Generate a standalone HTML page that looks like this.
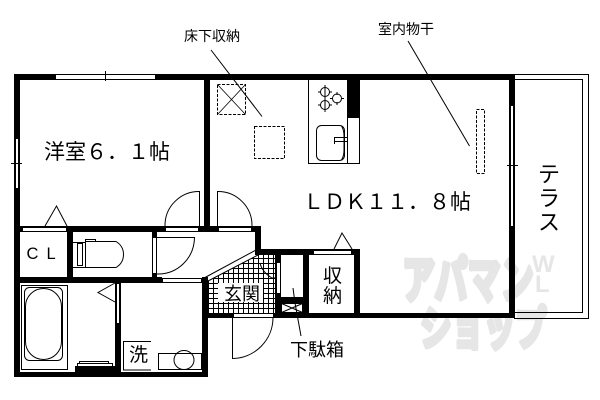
<!DOCTYPE html>
<html lang="ja"><head><meta charset="utf-8"><title>間取り図</title>
<style>
html,body{margin:0;padding:0;background:#fff;width:600px;height:400px;overflow:hidden}
svg{display:block}
text{font-family:"Liberation Sans","Noto Sans CJK JP",sans-serif;fill:#000}
.wm{fill:#e6e6e6;stroke:#e6e6e6;stroke-width:3.500;stroke-linejoin:round;font-weight:700;font-family:"Noto Sans CJK JP",sans-serif}
</style></head><body>
<svg xmlns="http://www.w3.org/2000/svg" width="600" height="400" viewBox="0 0 600 400">
<defs><clipPath id="tile"><polygon points="208,281 257,255 275,255 275,313 208,313"/></clipPath></defs>
<!-- watermark -->
<text class="wm" transform="translate(402,298) scale(.92,1.4)" font-size="36">アパマン</text>
<text class="wm" transform="translate(420,345) scale(.88,1.3)" font-size="36">ショップ</text>
<text transform="translate(532,272)" font-size="24" font-weight="700" style="fill:#e6e6e6">W</text>
<text transform="translate(535,292)" font-size="24" font-weight="700" style="fill:#e6e6e6">L</text>

<!-- terrace -->
<g fill="none" stroke="#000" stroke-width="1" shape-rendering="crispEdges">
<rect x="514.500" y="74.500" width="74" height="244"/>
<rect x="514.500" y="79.500" width="68" height="233"/>
</g>

<!-- tile grid -->
<g stroke="#000" stroke-width="1" shape-rendering="crispEdges" clip-path="url(#tile)">
<path d="M208.500 250V313M213.500 250V313M218.500 250V313M223.500 250V313M228.500 250V313M233.500 250V313M238.500 250V313M243.500 250V313M248.500 250V313M253.500 250V313M258.500 250V313M263.500 250V313M268.500 250V313M273.500 250V313"/>
<path d="M208 258.500H275M208 263.500H275M208 268.500H275M208 273.500H275M208 278.500H275M208 283.500H275M208 288.500H275M208 293.500H275M208 298.500H275M208 303.500H275M208 308.500H275"/>
</g>
<polygon points="205,277 256,250 258,255 208,281" fill="#fff"/>
<path d="M205 277.500L256 250M208 281L258 255" stroke="#000" stroke-width="1" fill="none"/>
<rect x="218" y="283" width="45" height="19" fill="#fff"/>

<!-- walls -->
<g fill="#000" shape-rendering="crispEdges">
<rect x="14" y="74" width="501" height="6"/>
<rect x="14" y="74" width="6" height="303"/>
<rect x="509" y="74" width="6" height="244"/>
<rect x="204" y="80" width="6" height="150"/>
<rect x="14" y="226" width="247" height="6"/>
<rect x="255" y="226" width="6" height="29"/>
<rect x="255" y="249" width="105" height="6"/>
<rect x="354" y="249" width="6" height="69"/>
<rect x="275" y="249" width="6" height="69"/>
<rect x="303" y="255" width="6" height="58"/>
<rect x="275" y="297" width="28" height="6"/>
<rect x="207" y="313" width="308" height="5"/>
<rect x="202" y="277" width="6" height="100"/>
<rect x="14" y="372" width="193" height="5"/>
<rect x="67" y="226" width="6" height="57"/>
<rect x="14" y="277" width="148" height="6"/>
<rect x="152" y="232" width="5" height="51"/>
<rect x="115" y="283" width="6" height="89"/>
<rect x="75" y="366" width="46" height="6"/>
<rect x="347" y="80" width="13" height="38"/>
</g>

<!-- openings & windows -->
<g fill="#fff" stroke="#000" stroke-width="1" shape-rendering="crispEdges">
<rect x="55.500" y="74.500" width="100" height="5"/>
<rect x="15.500" y="138.500" width="3" height="50"/>
<rect x="510.500" y="105.500" width="3" height="121"/>
<rect x="22.500" y="227.500" width="44" height="4"/>
<rect x="165.500" y="227.500" width="33" height="4"/>
<rect x="218.500" y="227.500" width="33" height="4"/>
<rect x="152.500" y="237.500" width="4" height="36"/>
<rect x="162.500" y="278.500" width="39" height="4"/>
<rect x="116.500" y="283.500" width="3" height="40"/>
<rect x="313.500" y="250.500" width="38" height="4"/>
<rect x="276.500" y="262.500" width="4" height="31"/>
<rect x="233.500" y="313.500" width="40" height="4"/>
<rect x="79.500" y="361.500" width="29" height="2"/>
<rect x="77.500" y="363.500" width="35" height="3"/>
</g>
<path d="M105.500 71V81M11 163.500H22M507 165.500H518" stroke="#000" stroke-width="1" shape-rendering="crispEdges"/>

<!-- doors -->
<g fill="none" stroke="#000" stroke-width="1">
<path d="M199.500 226V191.500A34 34 0 0 0 165 226"/>
<path d="M217.500 226V191.500A34 34 0 0 1 252 226"/>
<path d="M157 237.500H194.500A37 37 0 0 1 157 274"/>
<path d="M232.500 318V358.500A41 41 0 0 0 273 318"/>
<path d="M45 226L56.500 206L67 226"/>
<path d="M115 283L98 292.500L115 302"/>
<path d="M334 249L342 233L352 249"/>
<!-- bath -->
<rect x="21.500" y="285.500" width="46" height="84"/>
<rect x="24.500" y="287.500" width="38" height="73" rx="5"/>
<rect x="25.500" y="288.500" width="36" height="71" rx="18"/>
<!-- toilet -->
<path d="M73 242.500H85.500V267.500H73"/>
<rect x="77.500" y="243.500" width="5" height="22"/>
<path d="M85.500 241.500H116Q123.500 246 123.500 254.500Q123.500 263 116 267.500H85.500"/>
<rect x="85.500" y="239.500" width="10" height="2"/>
<!-- wash -->
<path d="M151 341.500H123.500V370H151"/>
<rect x="158.500" y="353.500" width="43" height="16"/>
<ellipse cx="184" cy="360" rx="10" ry="9.500"/>
<!-- kitchen -->
<path d="M308.500 80V163.500H359.500V118M347.500 118V163.500"/>
<rect x="316.500" y="125.500" width="28" height="35" rx="5"/>
<rect x="318.500" y="125.500" width="24" height="35" rx="5" stroke="none"/>
<path d="M341.500 126Q344 130 344 136V150Q344 156 341.500 160"/>
<circle cx="325" cy="92" r="4.500"/><circle cx="337" cy="98.500" r="4.500"/><circle cx="325" cy="105" r="4.500"/>
<path d="M325 85V112M318 92H321M329 92H332M318 105H321M329 105H332M330 98.500H333M341 98.500H344M337 92V95M337 102V105"/>
<path d="M347 137.500H334.500V141.500H347M334.500 141.500V144M344 137V142"/>
<!-- dashed -->
<rect x="217.500" y="84.500" width="28" height="30" stroke-dasharray="3 1.500"/>
<path d="M217.500 84.500L245.500 114.500M245.500 84.500L217.500 114.500" stroke-width=".8"/>
<rect x="254.500" y="126.500" width="30" height="32" stroke-dasharray="3 1.500"/>
<rect x="476.500" y="109.500" width="8" height="64" stroke-dasharray="3 1.500"/>
<!-- leaders -->
<path d="M211 50L262 116.500M408 41L469.500 146M293 288L295 303L301 336"/>
<path d="M281.500 303.500H302.500V312.500H281.500ZM281.500 303.500L302.500 312.500M302.500 303.500L281.500 312.500"/>
<path d="M260 263Q262 272 272 278H276" stroke-width="1"/>
</g>

<!-- labels -->
<text x="184" y="41" font-size="14">床下収納</text>
<text x="378" y="34" font-size="14">室内物干</text>
<text x="44" y="159" font-size="21" textLength="126" lengthAdjust="spacing">洋室６．１帖</text>
<text x="303" y="209" font-size="21" textLength="168" lengthAdjust="spacing">ＬＤＫ１１．８帖</text>
<text x="538" y="182" font-size="22">テ</text>
<text x="538" y="206" font-size="22">ラ</text>
<text x="538" y="230" font-size="22">ス</text>
<text x="224" y="300" font-size="18">玄関</text>
<text x="323" y="282" font-size="19">収</text>
<text x="323" y="302" font-size="19">納</text>
<text x="290" y="356" font-size="18">下駄箱</text>
<text x="26.500" y="259" font-size="16.500">C</text>
<text x="46.500" y="259" font-size="16.500">L</text>
<text x="129" y="361" font-size="19">洗</text>
</svg>
</body></html>
